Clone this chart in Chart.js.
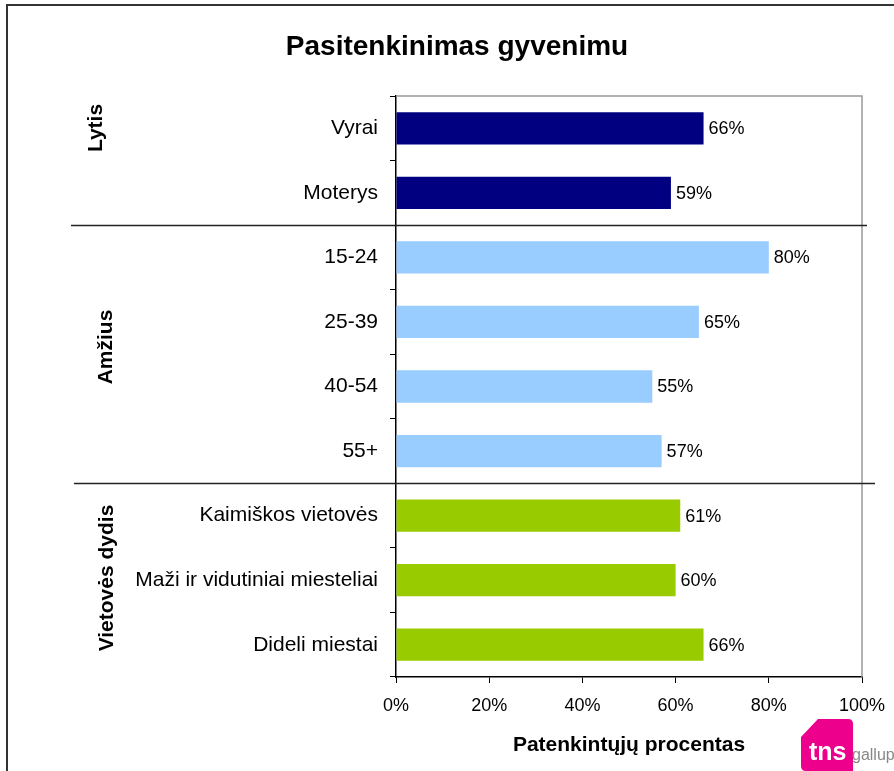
<!DOCTYPE html>
<html>
<head>
<meta charset="utf-8">
<script src="https://cdn.jsdelivr.net/npm/chart.js@4"></script>
<style>
    html, body { margin: 0; padding: 0; background: #fff; }
    #wrap { width: 894px; height: 771px; position: relative; }
</style>
</head>
<body>
<div id="wrap"><canvas id="satisfactionChart"></canvas></div>
<script>
const categories = ['Vyrai', 'Moterys', '15-24', '25-39', '40-54', '55+',
    'Kaimiškos vietovės', 'Maži ir vidutiniai miesteliai', 'Dideli miestai'];
const values = [66, 59, 80, 65, 55, 57, 61, 60, 66];
const groupOf = [0, 0, 1, 1, 1, 1, 2, 2, 2];
const groupNames = ['Lytis', 'Amžius', 'Vietovės dydis'];
const groupColors = ['#000080', '#99ccff', '#99cc00'];
const xTicks = [0, 20, 40, 60, 80, 100];

const FONT = '"Liberation Sans", Arial, sans-serif';

// extra drawing: frame, title, group labels, separators, value labels, logo
const decorations = {
    id: 'decorations',
    afterDraw(chart) {
        const ctx = chart.ctx;
        const area = chart.chartArea;
        const y = chart.scales.y;
        ctx.save();

        // outer frame
        ctx.strokeStyle = '#333';
        ctx.lineWidth = 2;
        ctx.beginPath();
        ctx.moveTo(7, 771);
        ctx.lineTo(7, 5);
        ctx.lineTo(894, 5);
        ctx.stroke();

        // plot border top/right
        ctx.strokeStyle = '#999';
        ctx.lineWidth = 1.5;
        ctx.beginPath();
        ctx.moveTo(area.left, area.top);
        ctx.lineTo(area.right, area.top);
        ctx.lineTo(area.right, area.bottom);
        ctx.stroke();

        // title
        ctx.fillStyle = '#000';
        ctx.font = 'bold 28px ' + FONT;
        ctx.textAlign = 'center';
        ctx.textBaseline = 'middle';
        ctx.fillText('Pasitenkinimas gyvenimu', 457, 47);

        // group separators
        const band = (area.bottom - area.top) / categories.length;
        ctx.strokeStyle = '#222';
        ctx.lineWidth = 1.5;
        [[2, 71, 867], [6, 74, 875]].forEach(([idx, x0, x1]) => {
            const yy = Math.round(y.getPixelForValue(idx) - band / 2) + 0.5;
            ctx.beginPath();
            ctx.moveTo(x0, yy);
            ctx.lineTo(x1, yy);
            ctx.stroke();
        });

        // rotated group labels
        ctx.font = 'bold 21px ' + FONT;
        [[0, 96, 128], [1, 106, 347], [2, 107, 578]].forEach(([g, gx, gy]) => {
            ctx.save();
            ctx.translate(gx, gy);
            ctx.rotate(-Math.PI / 2);
            ctx.textAlign = 'center';
            ctx.textBaseline = 'middle';
            ctx.fillText(groupNames[g], 0, 0);
            ctx.restore();
        });

        // value labels
        const meta = chart.getDatasetMeta(0);
        ctx.font = '18px ' + FONT;
        ctx.textAlign = 'left';
        ctx.textBaseline = 'middle';
        meta.data.forEach((bar, i) => {
            ctx.fillText(values[i] + '%', bar.x + 5, bar.y + 1);
        });

        // x axis title
        ctx.font = 'bold 21px ' + FONT;
        ctx.textAlign = 'center';
        ctx.fillText('Patenkintųjų procentas', (area.left + area.right) / 2, 745);

        // tns gallup logo
        ctx.fillStyle = '#ec008c';
        ctx.beginPath();
        ctx.moveTo(818, 719);
        ctx.lineTo(848, 719);
        ctx.quadraticCurveTo(853, 719, 853, 724);
        ctx.lineTo(853, 771);
        ctx.lineTo(806, 771);
        ctx.quadraticCurveTo(801, 771, 801, 766);
        ctx.lineTo(801, 737);
        ctx.closePath();
        ctx.fill();
        ctx.fillStyle = '#fff';
        ctx.font = 'bold 25px ' + FONT;
        ctx.textAlign = 'left';
        ctx.textBaseline = 'alphabetic';
        ctx.fillText('tns', 809, 760);
        ctx.fillStyle = '#888';
        ctx.font = '16px ' + FONT;
        ctx.fillText('gallup', 852, 760);

        ctx.restore();
    }
};

const ctx = document.getElementById('satisfactionChart').getContext('2d');
new Chart(ctx, {
    type: 'bar',
    data: {
        labels: categories,
        datasets: [{
            data: values,
            backgroundColor: groupOf.map(g => groupColors[g]),
            barPercentage: 0.5,
            categoryPercentage: 1.0
        }]
    },
    options: {
        indexAxis: 'y',
        responsive: true,
        maintainAspectRatio: false,
        animation: false,
        layout: {
            padding: { top: 96, right: 32, bottom: 0, left: 0 }
        },
        plugins: {
            legend: { display: false },
            title: { display: false },
            tooltip: { enabled: false }
        },
        scales: {
            x: {
                min: 0,
                max: 100,
                afterBuildTicks: scale => {
                    scale.ticks = xTicks.map(v => ({ value: v }));
                },
                afterFit: scale => {
                    scale.height = 94;
                    scale.paddingLeft = 0;
                    scale.paddingRight = 0;
                },
                border: { color: '#000', width: 1.5 },
                grid: {
                    drawOnChartArea: false,
                    tickLength: 6,
                    tickColor: '#000'
                },
                ticks: {
                    color: '#000',
                    padding: 12,
                    maxRotation: 0,
                    font: { size: 18, family: FONT },
                    callback: v => v + '%'
                }
            },
            y: {
                afterFit: scale => { scale.width = 396; },
                border: { color: '#000', width: 1.5 },
                grid: {
                    drawOnChartArea: false,
                    tickLength: 6,
                    tickColor: '#000',
                    offset: true
                },
                ticks: {
                    color: '#000',
                    padding: 12,
                    font: { size: 21, family: FONT }
                }
            }
        }
    },
    plugins: [decorations]
});
</script>
</body>
</html>
